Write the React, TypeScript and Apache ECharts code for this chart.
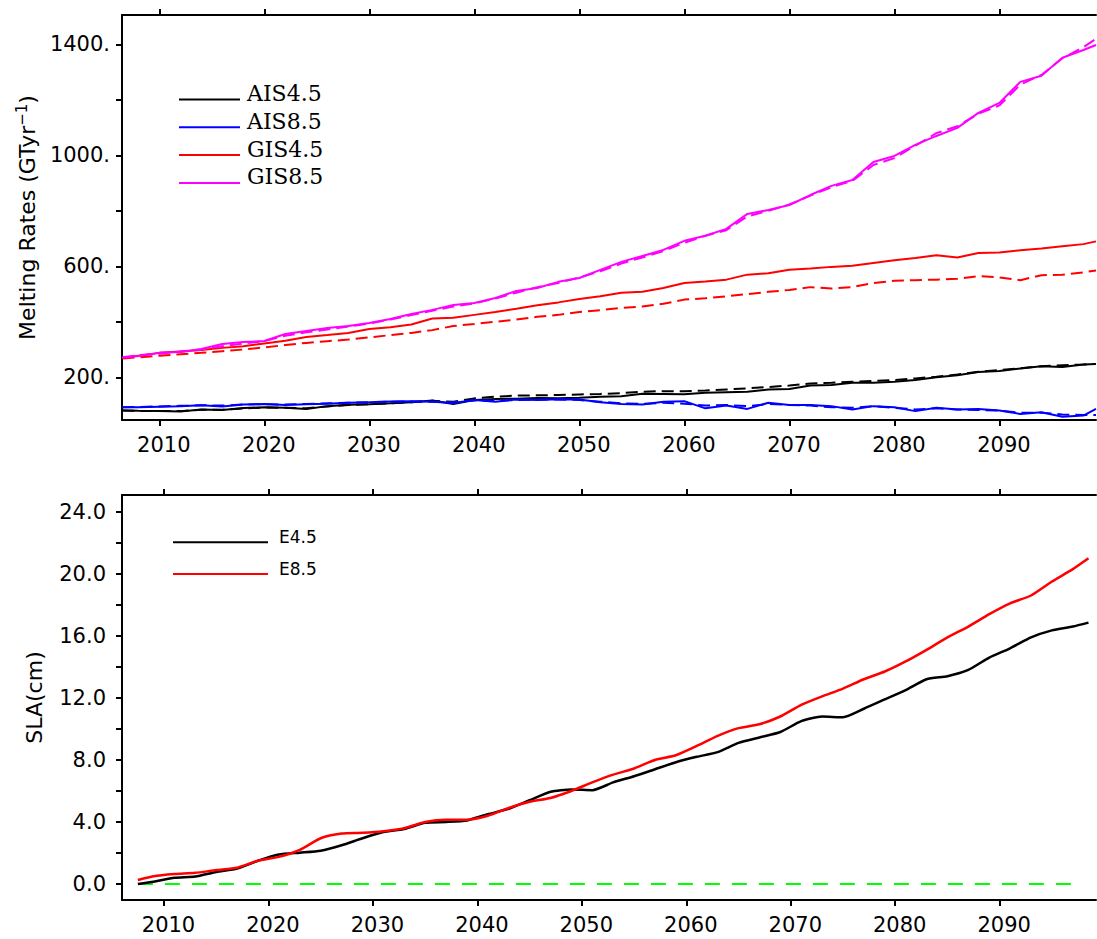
import React, { useEffect, useRef } from "react";
import * as echarts from "echarts";

// ---------- Top panel (melting rates, GT/yr) ----------
const topYears = [
  2006.5, 2008, 2010, 2012, 2014, 2016, 2018, 2020, 2022, 2024, 2026, 2028, 2030, 2032, 2034, 2036,
  2038, 2040, 2042, 2044, 2046, 2048, 2050, 2052, 2054, 2056, 2058, 2060, 2062, 2064, 2066, 2068,
  2070, 2072, 2074, 2076, 2078, 2080, 2082, 2084, 2086, 2088, 2090, 2092, 2094, 2096, 2098, 2099.2,
];
const ais45Solid = [80, 79, 78, 77, 84, 82, 89, 92, 90, 86, 96, 101, 103, 106, 110, 116, 104, 118, 122, 123, 125, 124, 126, 130, 132, 141, 140, 139, 144, 146, 148, 156, 158, 170, 172, 180, 180, 184, 190, 200, 207, 219, 223, 232, 240, 237, 246, 248];
const ais45Dashed = [80, 79, 78, 78, 83, 83, 88, 91, 90, 88, 95, 100, 103, 106, 110, 115, 112, 124, 130, 134, 135, 136, 138, 140, 143, 148, 150, 150, 152, 156, 160, 165, 170, 178, 180, 184, 187, 190, 196, 202, 210, 220, 226, 232, 240, 243, 246, 248];
const ais85Solid = [92, 92, 94, 96, 99, 95, 102, 104, 100, 103, 105, 108, 110, 113, 114, 112, 107, 118, 112, 120, 118, 121, 120, 110, 104, 102, 112, 114, 88, 98, 86, 108, 100, 100, 96, 84, 96, 92, 78, 90, 84, 86, 80, 68, 74, 58, 62, 86];
const ais85Dashed = [92, 93, 95, 97, 99, 98, 102, 103, 102, 104, 106, 108, 110, 112, 113, 112, 110, 116, 116, 118, 119, 120, 118, 112, 106, 104, 108, 105, 98, 100, 96, 104, 100, 98, 92, 90, 96, 90, 84, 88, 84, 82, 80, 72, 72, 66, 64, 64];
const gis45Solid = [270, 278, 288, 293, 298, 306, 312, 322, 332, 345, 352, 360, 374, 380, 390, 412, 415, 425, 435, 447, 460, 470, 482, 492, 505, 508, 522, 540, 545, 552, 570, 575, 588, 592, 598, 602, 612, 622, 630, 640, 632, 648, 650, 658, 664, 672, 680, 690];
const gis45Dashed = [268, 272, 278, 283, 288, 294, 300, 308, 316, 324, 330, 336, 344, 352, 360, 370, 385, 392, 400, 408, 418, 425, 435, 442, 450, 455, 465, 480, 485, 492, 500, 508, 515, 525, 520, 525, 540, 548, 550, 552, 555, 565, 560, 550, 568, 570, 578, 585];
const gis85Solid = [270, 277, 288, 291, 302, 320, 327, 331, 356, 367, 378, 385, 396, 410, 428, 443, 461, 468, 486, 511, 522, 544, 558, 587, 616, 637, 659, 692, 710, 735, 789, 803, 821, 857, 890, 911, 976, 998, 1038, 1070, 1099, 1153, 1189, 1265, 1287, 1352, 1380, 1398];
const gis85Dashed = [272, 280, 285, 293, 300, 312, 322, 330, 350, 362, 372, 383, 394, 408, 424, 440, 455, 466, 484, 505, 525, 540, 560, 582, 610, 632, 655, 685, 710, 730, 780, 800, 823, 855, 885, 908, 965, 990, 1035, 1080, 1105, 1150, 1180, 1255, 1290, 1350, 1390, 1420];

const topLegendNames = ["AIS4.5", "AIS8.5", "GIS4.5", "GIS8.5"];
const topColors = ["#000000", "#0000ff", "#ff0000", "#ff00ff"];
const topYTicks = [200, 400, 600, 800, 1000, 1200, 1400];
const topYLabels = [200, 600, 1000, 1400];

// ---------- Bottom panel (SLA, cm) ----------
const botYears = [
  2007.5, 2009, 2011, 2013, 2015, 2017, 2019, 2021, 2023, 2025, 2027, 2029, 2031, 2033, 2035, 2037,
  2039, 2041, 2043, 2045, 2047, 2049, 2051, 2053, 2055, 2057, 2059, 2061, 2063, 2065, 2067, 2069,
  2071, 2073, 2075, 2077, 2079, 2081, 2083, 2085, 2087, 2089, 2091, 2093, 2095, 2097, 2098.5,
];
const e45 = [0.0, 0.15, 0.4, 0.48, 0.78, 1.0, 1.5, 1.9, 2.02, 2.15, 2.5, 2.95, 3.35, 3.55, 3.95, 4.0, 4.1, 4.5, 4.85, 5.4, 5.95, 6.1, 6.05, 6.55, 6.95, 7.4, 7.85, 8.2, 8.5, 9.1, 9.45, 9.8, 10.5, 10.8, 10.75, 11.3, 11.9, 12.5, 13.2, 13.4, 13.8, 14.6, 15.2, 15.9, 16.35, 16.6, 16.85];
const e85 = [0.26, 0.5, 0.64, 0.72, 0.9, 1.05, 1.5, 1.75, 2.2, 2.95, 3.25, 3.3, 3.4, 3.6, 4.0, 4.15, 4.15, 4.4, 4.9, 5.3, 5.55, 6.0, 6.55, 7.05, 7.45, 8.0, 8.3, 8.9, 9.55, 10.05, 10.3, 10.8, 11.55, 12.1, 12.6, 13.2, 13.7, 14.35, 15.1, 15.9, 16.6, 17.4, 18.1, 18.6, 19.5, 20.3, 21.0];
const zeroLineYears = [2007.5, 2097.85];
const zeroLineValues = [0, 0];

const botLegendNames = ["E4.5", "E8.5"];
const botColors = ["#000000", "#ff0000"];
const botYTicks = [0, 2, 4, 6, 8, 10, 12, 14, 16, 18, 20, 22, 24];
const botYLabels = [0, 4, 8, 12, 16, 20, 24];

const decades = [2010, 2020, 2030, 2040, 2050, 2060, 2070, 2080, 2090];

const SANS = '"DejaVu Sans"';
const pairs = (xs: number[], ys: number[]) => xs.map((x, i) => [x, ys[i]]);

function xAxisDef(gridIndex: number, min: number, max: number, position: "top" | "bottom") {
  return {
    type: "value",
    gridIndex,
    position,
    min,
    max,
    splitLine: { show: false },
    axisLine: { show: true, onZero: false, lineStyle: { color: "#000", width: 2 } },
    axisTick: { show: true, inside: false, length: 6, customValues: decades, lineStyle: { color: "#000", width: 2 } },
    axisLabel: {
      show: position === "bottom",
      customValues: decades,
      formatter: (v: number) => String(Math.round(v)),
      color: "#000",
      fontFamily: SANS,
      fontSize: 21,
      margin: 14,
      padding: [0, 0, 0, 9],
    },
  };
}

function buildOption() {
  const lineSeries = (name: string, data: number[], color: string, dashed: boolean) => ({
    type: "line",
    name,
    xAxisIndex: 0,
    yAxisIndex: 0,
    data: pairs(topYears, data),
    showSymbol: false,
    symbol: "none",
    lineStyle: { color, width: 2, type: dashed ? [12, 6] : "solid" },
  });

  const graphic: any[] = [];
  topLegendNames.forEach((name, i) => {
    const ly = 99.5 + i * 27.8;
    graphic.push({ type: "line", shape: { x1: 179, y1: ly, x2: 240, y2: ly }, style: { stroke: topColors[i], lineWidth: 2 } });
    graphic.push({
      type: "text",
      x: 247,
      y: ly - 6,
      style: { text: name, fill: "#000", fontFamily: '"DejaVu Serif"', fontSize: 22, verticalAlign: "middle", align: "left" },
    });
  });
  botLegendNames.forEach((name, i) => {
    const ly = 542.3 + i * 31.7;
    graphic.push({ type: "line", shape: { x1: 173, y1: ly, x2: 268, y2: ly }, style: { stroke: botColors[i], lineWidth: 2 } });
    graphic.push({
      type: "text",
      x: 279,
      y: ly - 5,
      style: { text: name, fill: "#000", fontFamily: SANS, fontSize: 17, verticalAlign: "middle", align: "left" },
    });
  });

  return {
    animation: false,
    backgroundColor: "#ffffff",
    grid: [
      { left: 122, top: 15, width: 974, height: 405 },
      { left: 122, top: 495, width: 974, height: 405 },
    ],
    xAxis: [
      xAxisDef(0, 2006.45, 2099.2, "bottom"),
      xAxisDef(0, 2006.45, 2099.2, "top"),
      xAxisDef(1, 2005.98, 2099.22, "bottom"),
      xAxisDef(1, 2005.98, 2099.22, "top"),
    ],
    yAxis: [
      {
        type: "value",
        gridIndex: 0,
        min: 46,
        max: 1506,
        name: "Melting Rates (GTyr{sup|−1})",
        nameLocation: "middle",
        nameGap: 77,
        nameTextStyle: {
          color: "#000",
          fontFamily: SANS,
          fontSize: 22,
          rich: { sup: { fontSize: 15, fontFamily: SANS, color: "#000", padding: [0, 0, 12, 0] } },
        },
        splitLine: { show: false },
        axisLine: { show: true, onZero: false, lineStyle: { color: "#000", width: 2 } },
        axisTick: { show: true, length: 6, customValues: topYTicks, lineStyle: { color: "#000", width: 2 } },
        axisLabel: {
          customValues: topYLabels,
          formatter: (v: number) => `${Math.round(v)}.`,
          color: "#000",
          fontFamily: SANS,
          fontSize: 21,
          margin: 12,
        },
      },
      {
        type: "value",
        gridIndex: 1,
        min: -1.03,
        max: 25.08,
        name: "SLA(cm)",
        nameLocation: "middle",
        nameGap: 77,
        nameTextStyle: { color: "#000", fontFamily: SANS, fontSize: 22 },
        splitLine: { show: false },
        axisLine: { show: true, onZero: false, lineStyle: { color: "#000", width: 2 } },
        axisTick: { show: true, length: 6, customValues: botYTicks, lineStyle: { color: "#000", width: 2 } },
        axisLabel: {
          customValues: botYLabels,
          formatter: (v: number) => v.toFixed(1),
          color: "#000",
          fontFamily: SANS,
          fontSize: 21,
          margin: 16,
        },
      },
    ],
    series: [
      lineSeries("AIS4.5", ais45Solid, topColors[0], false),
      lineSeries("AIS4.5 (dashed)", ais45Dashed, topColors[0], true),
      lineSeries("AIS8.5", ais85Solid, topColors[1], false),
      lineSeries("AIS8.5 (dashed)", ais85Dashed, topColors[1], true),
      lineSeries("GIS4.5", gis45Solid, topColors[2], false),
      lineSeries("GIS4.5 (dashed)", gis45Dashed, topColors[2], true),
      lineSeries("GIS8.5 (dashed)", gis85Dashed, topColors[3], true),
      lineSeries("GIS8.5", gis85Solid, topColors[3], false),
      {
        type: "line",
        name: "zero",
        xAxisIndex: 2,
        yAxisIndex: 1,
        data: pairs(zeroLineYears, zeroLineValues),
        showSymbol: false,
        symbol: "none",
        lineStyle: { color: "#00ff00", width: 2, type: [15, 12] },
      },
      {
        type: "line",
        name: "E4.5",
        xAxisIndex: 2,
        yAxisIndex: 1,
        data: pairs(botYears, e45),
        showSymbol: false,
        symbol: "none",
        smooth: 0.2,
        lineStyle: { color: botColors[0], width: 2.5 },
      },
      {
        type: "line",
        name: "E8.5",
        xAxisIndex: 2,
        yAxisIndex: 1,
        data: pairs(botYears, e85),
        showSymbol: false,
        symbol: "none",
        smooth: 0.2,
        lineStyle: { color: botColors[1], width: 2.5 },
      },
    ],
    graphic,
  };
}

export default function App() {
  const ref = useRef<HTMLDivElement>(null);
  useEffect(() => {
    document.body.style.margin = "0";
    const chart = echarts.init(ref.current as HTMLDivElement, null, { renderer: "svg" });
    chart.setOption(buildOption() as any);
    return () => chart.dispose();
  }, []);
  return (
    <div
      ref={ref}
      style={{ position: "absolute", left: 0, top: 0, width: 1097, height: 939, background: "#fff" }}
    />
  );
}
